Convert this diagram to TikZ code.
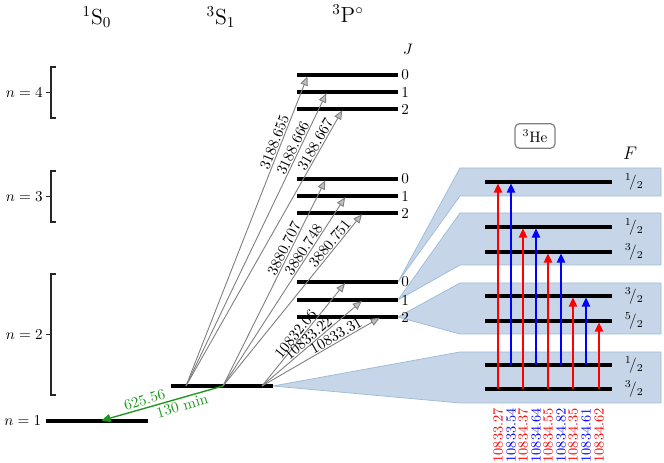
\documentclass[tikz,border=0pt]{standalone}
\usetikzlibrary{arrows.meta}
\definecolor{bandfill}{RGB}{198,214,232}
\definecolor{bandedge}{RGB}{158,188,218}
\definecolor{decaygreen}{RGB}{30,150,30}
\tikzset{
  level/.style={line width=2pt},
  trans/.style={gray, line width=0.6pt, shorten >=1pt, -{Triangle[length=6pt,width=5pt,fill=gray!50]}},
  hfarrow/.style={line width=1pt, shorten >=1pt, -{Triangle[length=6pt,width=5.5pt]}},
  band/.style={fill=bandfill, draw=bandedge, line width=0.5pt},
  wl/.style={sloped, above, inner sep=0.6pt, text=black},
  brk/.style={line width=0.9pt, black!85},
}
\begin{document}
\begin{tikzpicture}[x=0.66pt, y=0.66pt]
\useasboundingbox (0,0) rectangle (664,463);
% term headers
\node (hs0) at (97,446) {\Large $^1\mathrm{S}_0$};
\node (hs1) at (221,446) {\Large $^3\mathrm{S}_1$};
\node (hp) at (348,449) {\Large $^3\mathrm{P}^\circ$};
\node (jhead) at (408,414) {$J$};
\node (fhead) at (630,310) {\large $F$};
\node[draw=gray, rounded corners=3pt, line width=0.8pt, inner xsep=5pt, inner ysep=4pt] (he3) at (535,327) {$^3$He};

% n brackets
\foreach \n/\top/\bot in {4/396/345, 3/292/241, 2/189/68} {
  \draw[brk] (56,\top) -- (51,\top) -- (51,\bot) -- (56,\bot);
  \coordinate (m\n) at (51,{(\top+\bot)/2});
  \draw[brk] (m\n) -- ++(-5,0) coordinate (mt\n);
  \node[left, inner sep=2pt] (nl\n) at (mt\n) {$n = \n$};
}

% levels
\coordinate (g0) at (46,42); \coordinate (g1) at (148,42);
\coordinate (s0) at (171,77); \coordinate (s1) at (273,77);
\foreach \n/\ya/\yb/\yc in {2/181/163/146, 3/284/267/250, 4/388/371/354} {
  \coordinate (p\n0l) at (297,\ya); \coordinate (p\n0r) at (398,\ya);
  \coordinate (p\n1l) at (297,\yb); \coordinate (p\n1r) at (398,\yb);
  \coordinate (p\n2l) at (297,\yc); \coordinate (p\n2r) at (398,\yc);
}
\node[left, inner sep=3pt] (nl1) at (g0) {$n = 1$};

% hyperfine bands
\filldraw[band] (p20r) -- (460,295) -- (661,295) -- (661,267) -- (460,267) -- cycle;
\filldraw[band] (p21r) -- (460,250) -- (661,250) -- (661,198) -- (460,198) -- cycle;
\filldraw[band] (p22r) -- (460,180) -- (661,180) -- (661,129) -- (460,129) -- cycle;
\filldraw[band] (s1) -- (460,111) -- (661,111) -- (661,60) -- (460,60) -- cycle;

\draw[level] (g0) -- (g1);
\draw[level] (s0) -- (s1);
\foreach \n in {2,3,4} {
  \foreach \j in {0,1,2} {
    \draw[level] (p\n\j l) -- (p\n\j r);
    \node[right, inner sep=2pt] (jl\n\j) at (p\n\j r) {\j};
  }
}

% transitions from 3S1
\coordinate (a4) at (186,77);
\coordinate (a3) at (223,77);
\coordinate (a2) at (262,77);
\coordinate (t40) at (308,388); \coordinate (t41) at (327,371); \coordinate (t42) at (343,354);
\coordinate (t30) at (326,284); \coordinate (t31) at (346,267); \coordinate (t32) at (363,250);
\coordinate (t20) at (346,181); \coordinate (t21) at (363,163); \coordinate (t22) at (381,146);
\draw[trans] (a4) -- (t40) node[wl, pos=0.775] {3188.655};
\draw[trans] (a4) -- (t41) node[wl, pos=0.8] {3188.666};
\draw[trans] (a4) -- (t42) node[wl, pos=0.86] {3188.667};
\draw[trans] (a3) -- (t30) node[wl, pos=0.65] {3880.707};
\draw[trans] (a3) -- (t31) node[wl, pos=0.7] {3880.748};
\draw[trans] (a3) -- (t32) node[wl, pos=0.8] {3880.751};
\draw[trans] (a2) -- (t20) node[wl, pos=0.46] {10832.06};
\draw[trans] (a2) -- (t21) node[wl, pos=0.5] {10833.22};
\draw[trans] (a2) -- (t22) node[wl, pos=0.65] {10833.31};

% decay to ground
\coordinate (gt) at (100,42);
\draw[decaygreen, line width=0.9pt, shorten >=1pt, -{Triangle[length=6pt,width=5.5pt]}] (a3) -- (gt)
  node[wl, pos=0.62, inner sep=1.5pt, text=decaygreen] {625.56}
  node[sloped, below, pos=0.35, inner sep=1.5pt, text=decaygreen] {130 min};

% hyperfine levels
\foreach \nm/\y/\num in {a1/281/1, b1/236/1, b3/211/3, c3/167/3, c5/142/5, d1/98/1, d3/74/3} {
  \coordinate (hl\nm) at (485,\y);
  \coordinate (hr\nm) at (612,\y);
  \draw[level] (hl\nm) -- (hr\nm);
  \node[right, xshift=5pt] (f\nm) at (hr\nm) {$^{\num}\!/_2$};
}

% hyperfine transitions
\foreach \i/\x/\col/\lo/\hi/\txt in {1/498/red/74/281/10833.27, 2/511/blue/98/281/10833.54,
    3/523/red/74/236/10834.37, 4/536/blue/98/236/10834.64, 5/548/red/74/211/10834.55,
    6/561/blue/98/211/10834.82, 7/573/red/74/167/10834.35, 8/586/blue/98/167/10834.61,
    9/599/red/74/142/10834.62} {
  \coordinate (lo\i) at (\x,\lo);
  \coordinate (hi\i) at (\x,\hi);
  \draw[hfarrow, \col] (lo\i) -- (hi\i);
  \node[rotate=90, anchor=east, inner sep=0pt, text=\col, font=\fontsize{9.2}{11}\selectfont] (w\i) at (\x,55) {\txt};
}
\end{tikzpicture}
\end{document}
